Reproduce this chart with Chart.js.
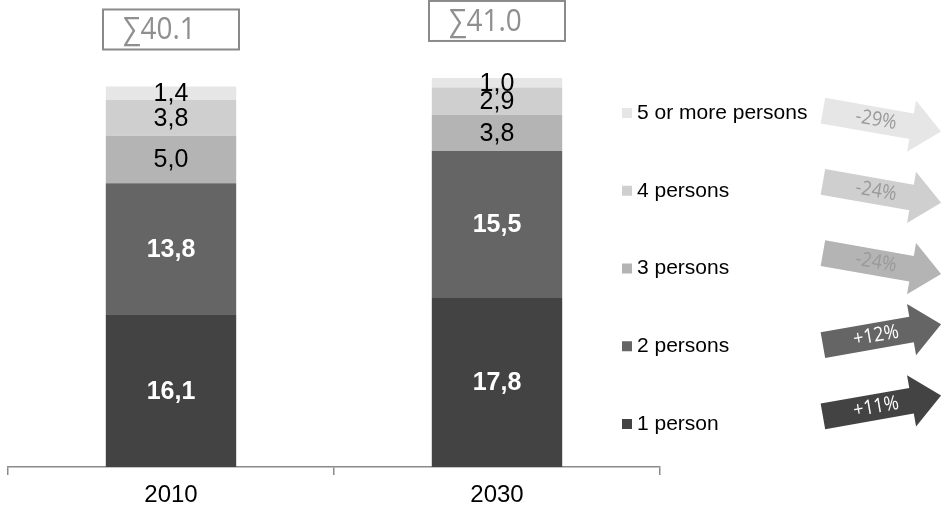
<!DOCTYPE html>
<html>
<head>
<meta charset="utf-8">
<script src="https://cdn.jsdelivr.net/npm/chart.js@4/dist/chart.umd.min.js"></script>
<style>
  html, body { margin: 0; padding: 0; background: #ffffff; }
  #wrap { width: 944px; height: 516px; }
</style>
</head>
<body>
<div id="wrap"><canvas id="chart" width="944" height="516"></canvas></div>
<script>
// Households by size (millions)
const years = ['2010', '2030'];
const householdSizes = ['1 person', '2 persons', '3 persons', '4 persons', '5 or more persons'];
const onePerson    = [16.1, 17.8];
const twoPersons   = [13.8, 15.5];
const threePersons = [5.0, 3.8];
const fourPersons  = [3.8, 2.9];
const fivePlus     = [1.4, 1.0];

const sizeColors = ['#434343', '#656565', '#b4b4b4', '#cfcfcf', '#e6e6e6'];
const seriesValues = [onePerson, twoPersons, threePersons, fourPersons, fivePlus];

const fmtComma = v => v.toFixed(1).replace('.', ',');

// Labels inside the bars, total boxes, legend and change arrows
const decorations = {
  id: 'decorations',
  afterDatasetsDraw(chart) {
    const ctx = chart.ctx;
    const n = chart.data.datasets.length;

    // value labels in the segments
    chart.data.datasets.forEach((ds, di) => {
      const meta = chart.getDatasetMeta(di);
      meta.data.forEach((bar, i) => {
        const v = ds.data[i];
        const yc = (bar.y + bar.base) / 2;
        ctx.save();
        ctx.textAlign = 'center';
        ctx.textBaseline = 'middle';
        if (di < 2) {
          ctx.fillStyle = '#ffffff';
          ctx.font = 'bold 25px "Liberation Sans", Arial, sans-serif';
        } else {
          ctx.fillStyle = '#000000';
          ctx.font = '25px "Liberation Sans", Arial, sans-serif';
        }
        ctx.fillText(fmtComma(v), bar.x, yc + 1);
        ctx.restore();
      });
    });

    // total boxes above each bar
    const topMeta = chart.getDatasetMeta(n - 1);
    years.forEach((y, i) => {
      const total = seriesValues.reduce((s, arr) => s + arr[i], 0);
      const bar = topMeta.data[i];
      const w = 136, h = 40;
      const bx = bar.x - w / 2;
      const by = bar.y - 37 - h;
      ctx.save();
      ctx.strokeStyle = '#8a8a8a';
      ctx.lineWidth = 2;
      ctx.strokeRect(bx, by, w, h);
      ctx.fillStyle = '#8f8f8f';
      ctx.font = '31px "Open Sans", sans-serif';
      ctx.textAlign = 'left';
      ctx.textBaseline = 'middle';
      ctx.translate(bx + 20, by + h / 2 + 1);
      ctx.scale(0.9, 1);
      ctx.fillText('\u2211' + total.toFixed(1), 0, 0);
      ctx.restore();
    });

    // legend (largest household size on top)
    const legendX = 622;
    const legendTop = 112;
    const legendStep = 77.75;
    for (let k = 0; k < n; k++) {
      const di = n - 1 - k;
      const ly = legendTop + k * legendStep;
      ctx.save();
      ctx.fillStyle = sizeColors[di];
      ctx.fillRect(legendX, ly - 4, 10, 10);
      ctx.fillStyle = '#000000';
      ctx.font = '21px "Liberation Sans", Arial, sans-serif';
      ctx.textAlign = 'left';
      ctx.textBaseline = 'middle';
      ctx.fillText(householdSizes[di], legendX + 15, ly + 1);
      ctx.restore();
    }

    // change arrows 2010 -> 2030
    const arrowTop = 121;
    const arrowStep = 71.25;
    for (let k = 0; k < n; k++) {
      const di = n - 1 - k;
      const vals = seriesValues[di];
      const change = Math.round((vals[1] / vals[0] - 1) * 100);
      const label = (change > 0 ? '+' : '-') + Math.abs(change) + '%';
      const cx = 882, cy = arrowTop + k * arrowStep;
      const angle = (change > 0 ? -10 : 10) * Math.PI / 180;
      ctx.save();
      ctx.translate(cx, cy);
      ctx.rotate(angle);
      ctx.beginPath();
      ctx.moveTo(-60, -13);
      ctx.lineTo(30, -13);
      ctx.lineTo(30, -26);
      ctx.lineTo(60, 0);
      ctx.lineTo(30, 26);
      ctx.lineTo(30, 13);
      ctx.lineTo(-60, 13);
      ctx.closePath();
      ctx.fillStyle = sizeColors[di];
      ctx.fill();
      ctx.fillStyle = di < 2 ? '#ffffff' : '#9a9a9a';
      ctx.font = '20px "Open Sans", sans-serif';
      ctx.textAlign = 'center';
      ctx.textBaseline = 'middle';
      ctx.translate(-6, 0);
      ctx.scale(0.9, 1);
      ctx.fillText(label, 0, 0);
      ctx.restore();
    }
  }
};

new Chart(document.getElementById('chart'), {
  type: 'bar',
  data: {
    labels: years,
    datasets: householdSizes.map((name, i) => ({
      label: name,
      data: seriesValues[i],
      backgroundColor: sizeColors[i],
      borderWidth: 0,
      categoryPercentage: 1.0,
      barPercentage: 0.4
    }))
  },
  options: {
    responsive: false,
    animation: false,
    devicePixelRatio: 1,
    layout: { padding: { left: 8, right: 284, top: 40, bottom: 0.2 } },
    plugins: {
      legend: { display: false },
      tooltip: { enabled: false },
      title: { display: false }
    },
    scales: {
      x: {
        stacked: true,
        grid: {
          offset: true,
          drawOnChartArea: false,
          drawTicks: true,
          tickLength: 8,
          color: '#8a8a8a',
          lineWidth: 1.5
        },
        border: { display: true, color: '#8a8a8a', width: 1.5 },
        ticks: {
          color: '#000000',
          font: { family: '"Liberation Sans", Arial, sans-serif', size: 24 },
          padding: 6
        }
      },
      y: {
        stacked: true,
        display: false,
        min: 0,
        max: 45
      }
    }
  },
  plugins: [decorations]
});
</script>
</body>
</html>
